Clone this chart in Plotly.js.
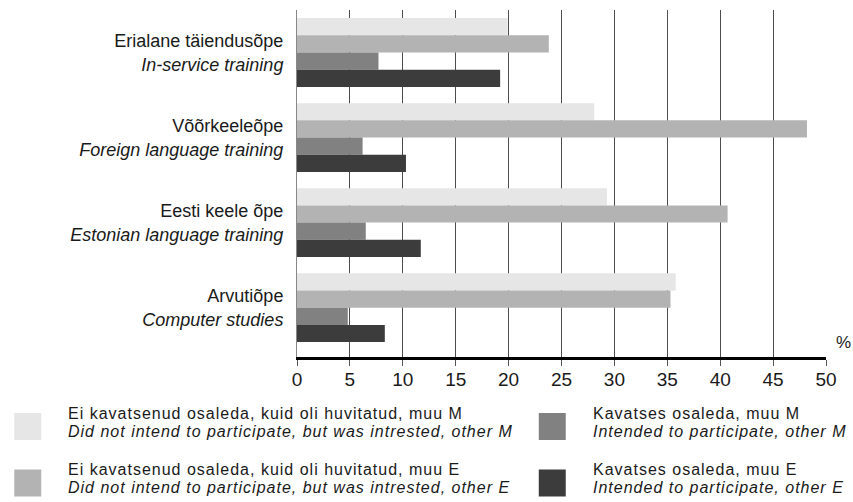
<!DOCTYPE html>
<html>
<head>
<meta charset="utf-8">
<script src="https://cdn.plot.ly/plotly-3.0.1.min.js"></script>
<style>
html,body{margin:0;padding:0;background:#fff;}
#chart{width:853px;height:502px;}
.annotation-text{letter-spacing:1px;}
</style>
</head>
<body>
<div id="chart"></div>
<script>
// ---- data ----
const categories = ['Erialane täiendusõpe', 'Võõrkeeleõpe', 'Eesti keele õpe', 'Arvutiõpe'];
const categoriesEn = ['In-service training', 'Foreign language training', 'Estonian language training', 'Computer studies'];
const interestedM = [19.9, 28.1, 29.3, 35.8];
const interestedE = [23.8, 48.2, 40.7, 35.3];
const intendedM = [7.7, 6.2, 6.5, 4.8];
const intendedE = [19.2, 10.3, 11.7, 8.3];
const seriesNamesEt = [
  'Ei kavatsenud osaleda, kuid oli huvitatud, muu M',
  'Ei kavatsenud osaleda, kuid oli huvitatud, muu E',
  'Kavatses osaleda, muu M',
  'Kavatses osaleda, muu E'
];
const seriesNamesEn = [
  'Did not intend to participate, but was intrested, other M',
  'Did not intend to participate, but was intrested, other E',
  'Intended to participate, other M',
  'Intended to participate, other E'
];
const xTicks = [0, 5, 10, 15, 20, 25, 30, 35, 40, 45, 50];

// ---- styles ----
const colors = ['#e6e6e6', '#b3b3b3', '#818181', '#3c3c3c'];
const FONT = 'Liberation Sans, Arial, Helvetica, sans-serif';
const TXT = '#1a1a1a';

const values = [interestedM, interestedE, intendedM, intendedE];
const traces = values.map((v, i) => ({
  type: 'bar', orientation: 'h',
  y: categories, x: v,
  name: seriesNamesEt[i],
  marker: {color: colors[i], line: {width: 0}},
  hoverinfo: 'x+name'
}));

// pixel -> paper helpers for legend placement
const L = 297, R = 826.5, T = 10, B = 357;
const px = X => (X - L) / (R - L);
const py = Y => (B - Y) / (B - T);

const shapes = [];
const annotations = [];
const legendPos = [
  {bx: 14, tx: 66, by: 413, l1: 413.9, l2: 431.9},
  {bx: 14, tx: 66, by: 469.5, l1: 469.9, l2: 487.9},
  {bx: 539, tx: 591, by: 413, l1: 413.9, l2: 431.9},
  {bx: 539, tx: 591, by: 469.5, l1: 469.9, l2: 487.9}
];
legendPos.forEach((p, i) => {
  shapes.push({type: 'rect', xref: 'paper', yref: 'paper',
    x0: px(p.bx), x1: px(p.bx + 27), y0: py(p.by + 27), y1: py(p.by),
    fillcolor: colors[i], line: {width: 0}});
  annotations.push({xref: 'paper', yref: 'paper', x: px(p.tx), y: py(p.l1),
    xanchor: 'left', yanchor: 'middle', align: 'left', showarrow: false, text: seriesNamesEt[i],
    font: {family: FONT, size: 16, color: TXT}});
  annotations.push({xref: 'paper', yref: 'paper', x: px(p.tx), y: py(p.l2),
    xanchor: 'left', yanchor: 'middle', align: 'left', showarrow: false, text: '<i>' + seriesNamesEn[i] + '</i>',
    font: {family: FONT, size: 16, color: TXT}});
});
annotations.push({xref: 'paper', yref: 'paper', x: px(845), y: py(342),
  xanchor: 'center', yanchor: 'middle', showarrow: false, text: '%',
  font: {family: FONT, size: 17, color: TXT}});

const layout = {
  width: 853, height: 502,
  margin: {l: L, r: 853 - R, t: T, b: 502 - B, pad: 0},
  paper_bgcolor: '#fff', plot_bgcolor: '#fff',
  barmode: 'group', bargap: 0.19, bargroupgap: 0,
  showlegend: false,
  font: {family: FONT, color: TXT},
  xaxis: {
    range: [0, 50], tickvals: xTicks, ticktext: xTicks.map(String),
    showgrid: true, gridcolor: '#4d4d4d', gridwidth: 1, zeroline: false,
    showline: true, linecolor: '#000', linewidth: 3,
    ticks: 'outside', ticklen: 6, tickcolor: '#555', tickwidth: 1,
    ticklabelstandoff: -3,
    tickfont: {family: FONT, size: 19, color: TXT}
  },
  yaxis: {
    type: 'category', range: [3.58, -0.5],
    tickvals: categories,
    ticktext: categories.map((c, i) => c + '<br><i>' + categoriesEn[i] + '</i>'),
    showgrid: false, zeroline: false,
    showline: true, linecolor: '#888', linewidth: 1,
    ticks: '', ticklabelstandoff: 9,
    tickfont: {family: FONT, size: 18, color: TXT}
  },
  shapes: shapes,
  annotations: annotations
};

Plotly.newPlot('chart', traces, layout, {displayModeBar: false, staticPlot: true});
</script>
</body>
</html>
